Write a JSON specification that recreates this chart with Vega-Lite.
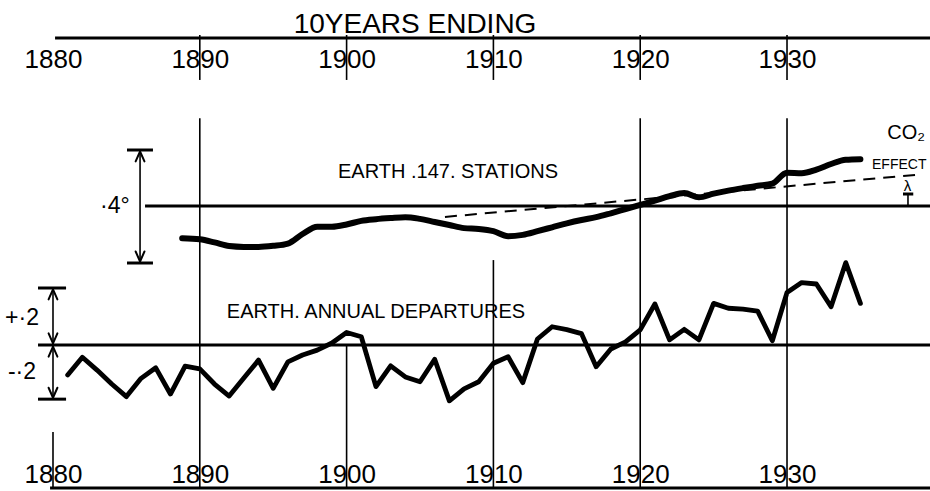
{
  "$schema": "https://vega.github.io/schema/vega-lite/v6.json",
  "width": 930,
  "height": 450,
  "autosize": {"type": "none"},
  "padding": {"top": 38, "left": 0, "right": 0, "bottom": 3},
  "background": "white",
  "config": {"view": {"stroke": null}},
  "datasets": {
    "annual": [
      {"year": 1881, "dep": -0.105}, {"year": 1882, "dep": -0.043}, {"year": 1883, "dep": -0.088},
      {"year": 1884, "dep": -0.137}, {"year": 1885, "dep": -0.181}, {"year": 1886, "dep": -0.117},
      {"year": 1887, "dep": -0.08}, {"year": 1888, "dep": -0.172}, {"year": 1889, "dep": -0.074},
      {"year": 1890, "dep": -0.084}, {"year": 1891, "dep": -0.137}, {"year": 1892, "dep": -0.179},
      {"year": 1893, "dep": -0.116}, {"year": 1894, "dep": -0.053}, {"year": 1895, "dep": -0.152},
      {"year": 1896, "dep": -0.059}, {"year": 1897, "dep": -0.035}, {"year": 1898, "dep": -0.018},
      {"year": 1899, "dep": 0.007}, {"year": 1900, "dep": 0.044}, {"year": 1901, "dep": 0.029},
      {"year": 1902, "dep": -0.146}, {"year": 1903, "dep": -0.073}, {"year": 1904, "dep": -0.112},
      {"year": 1905, "dep": -0.129}, {"year": 1906, "dep": -0.05}, {"year": 1907, "dep": -0.196},
      {"year": 1908, "dep": -0.154}, {"year": 1909, "dep": -0.129}, {"year": 1910, "dep": -0.064},
      {"year": 1911, "dep": -0.041}, {"year": 1912, "dep": -0.132}, {"year": 1913, "dep": 0.021},
      {"year": 1914, "dep": 0.064}, {"year": 1915, "dep": 0.054}, {"year": 1916, "dep": 0.04},
      {"year": 1917, "dep": -0.076}, {"year": 1918, "dep": -0.014}, {"year": 1919, "dep": 0.011},
      {"year": 1920, "dep": 0.053}, {"year": 1921, "dep": 0.144}, {"year": 1922, "dep": 0.018},
      {"year": 1923, "dep": 0.055}, {"year": 1924, "dep": 0.018}, {"year": 1925, "dep": 0.146},
      {"year": 1926, "dep": 0.129}, {"year": 1927, "dep": 0.126}, {"year": 1928, "dep": 0.119},
      {"year": 1929, "dep": 0.015}, {"year": 1930, "dep": 0.184}, {"year": 1931, "dep": 0.219},
      {"year": 1932, "dep": 0.214}, {"year": 1933, "dep": 0.134}, {"year": 1934, "dep": 0.289},
      {"year": 1935, "dep": 0.146}
    ],
    "smooth": [
      {"year": 1888.8, "dep": -0.115}, {"year": 1890, "dep": -0.119}, {"year": 1891, "dep": -0.13},
      {"year": 1892, "dep": -0.143}, {"year": 1893, "dep": -0.146}, {"year": 1894, "dep": -0.146},
      {"year": 1895, "dep": -0.142}, {"year": 1896, "dep": -0.134}, {"year": 1897, "dep": -0.1},
      {"year": 1898, "dep": -0.074}, {"year": 1899, "dep": -0.074}, {"year": 1900, "dep": -0.066},
      {"year": 1901, "dep": -0.053}, {"year": 1902, "dep": -0.047}, {"year": 1903, "dep": -0.043},
      {"year": 1904, "dep": -0.04}, {"year": 1905, "dep": -0.046}, {"year": 1906, "dep": -0.057},
      {"year": 1907, "dep": -0.068}, {"year": 1908, "dep": -0.079}, {"year": 1909, "dep": -0.082},
      {"year": 1910, "dep": -0.09}, {"year": 1911, "dep": -0.108}, {"year": 1912, "dep": -0.103},
      {"year": 1913, "dep": -0.09}, {"year": 1914, "dep": -0.076}, {"year": 1915, "dep": -0.062},
      {"year": 1916, "dep": -0.05}, {"year": 1917, "dep": -0.04}, {"year": 1918, "dep": -0.026},
      {"year": 1919, "dep": -0.011}, {"year": 1920, "dep": 0.004}, {"year": 1921, "dep": 0.019},
      {"year": 1922, "dep": 0.035}, {"year": 1923, "dep": 0.046}, {"year": 1924, "dep": 0.031},
      {"year": 1925, "dep": 0.044}, {"year": 1926, "dep": 0.055}, {"year": 1927, "dep": 0.064},
      {"year": 1928, "dep": 0.072}, {"year": 1929, "dep": 0.08}, {"year": 1930, "dep": 0.119},
      {"year": 1931, "dep": 0.117}, {"year": 1932, "dep": 0.13}, {"year": 1933, "dep": 0.15},
      {"year": 1934, "dep": 0.165}, {"year": 1935, "dep": 0.167}
    ],
    "co2": [{"year": 1906.7, "dep": -0.039}, {"year": 1938.72, "dep": 0.111}],
    "thin": [
      {"year": 1880, "year2": 1880, "v": -0.305, "v2": -0.50175},
      {"year": 1890, "year2": 1890, "v": 0.796, "v2": -0.50175},
      {"year": 1900, "year2": 1900, "v": 0, "v2": -0.50175},
      {"year": 1910, "year2": 1910, "v": 0.298, "v2": -0.50175},
      {"year": 1920, "year2": 1920, "v": 0.796, "v2": -0.50175},
      {"year": 1930, "year2": 1930, "v": 0.796, "v2": -0.50175},
      {"year": 1890, "year2": 1890, "v": 1.0877, "v2": 0.93},
      {"year": 1900, "year2": 1900, "v": 1.0877, "v2": 0.93},
      {"year": 1910, "year2": 1910, "v": 1.0877, "v2": 0.93},
      {"year": 1920, "year2": 1920, "v": 1.0877, "v2": 0.93},
      {"year": 1930, "year2": 1930, "v": 1.0877, "v2": 0.93},
      {"year": 1880, "year2": 1880, "v": 0.2, "v2": -0.19},
      {"year": 1885.93, "year2": 1885.93, "v": 0.6842, "v2": 0.2877},
      {"year": 1938.24, "year2": 1938.24, "v": 0.5298, "v2": 0.4877}
    ],
    "heads": [
      {"year": 1880, "year2": 1879.7, "v": 0.195, "v2": 0.16},
      {"year": 1880, "year2": 1880.3, "v": 0.195, "v2": 0.16},
      {"year": 1880, "year2": 1879.7, "v": 0.006, "v2": 0.041},
      {"year": 1880, "year2": 1880.3, "v": 0.006, "v2": 0.041},
      {"year": 1880, "year2": 1879.7, "v": -0.006, "v2": -0.041},
      {"year": 1880, "year2": 1880.3, "v": -0.006, "v2": -0.041},
      {"year": 1880, "year2": 1879.7, "v": -0.185, "v2": -0.15},
      {"year": 1880, "year2": 1880.3, "v": -0.185, "v2": -0.15},
      {"year": 1885.93, "year2": 1885.63, "v": 0.679, "v2": 0.644},
      {"year": 1885.93, "year2": 1886.23, "v": 0.679, "v2": 0.644},
      {"year": 1885.93, "year2": 1885.63, "v": 0.293, "v2": 0.328},
      {"year": 1885.93, "year2": 1886.23, "v": 0.293, "v2": 0.328}
    ],
    "thick": [
      {"year": 1880.14, "year2": 1939.74, "v": 1.0772, "v2": 1.0772},
      {"year": 1879.8, "year2": 1939.74, "v": -0.50175, "v2": -0.50175},
      {"year": 1878.98, "year2": 1939.74, "v": 0, "v2": 0},
      {"year": 1886.27, "year2": 1939.74, "v": 0.4877, "v2": 0.4877},
      {"year": 1878.98, "year2": 1880.89, "v": 0.2, "v2": 0.2},
      {"year": 1878.98, "year2": 1880.89, "v": -0.19, "v2": -0.19},
      {"year": 1885.04, "year2": 1886.81, "v": 0.6842, "v2": 0.6842},
      {"year": 1885.04, "year2": 1886.81, "v": 0.2877, "v2": 0.2877},
      {"year": 1937.9, "year2": 1938.6, "v": 0.5298, "v2": 0.5298}
    ]
  },
  "resolve": {"scale": {"y": "independent"}, "axis": {"x": "independent"}},
  "layer": [
    {
      "data": {"name": "thin"},
      "mark": {"type": "rule", "stroke": "#000", "strokeWidth": 1.6},
      "encoding": {
        "x": {"field": "year", "type": "quantitative", "scale": {"domain": [1876.39, 1939.74], "nice": false, "zero": false}, "axis": null},
        "x2": {"field": "year2"},
        "y": {"field": "v", "type": "quantitative", "scale": {"domain": [-0.50175, 1.07719], "nice": false, "zero": false}, "axis": null},
        "y2": {"field": "v2"}
      }
    },
    {
      "data": {"name": "heads"},
      "mark": {"type": "rule", "stroke": "#000", "strokeWidth": 2, "strokeCap": "round"},
      "encoding": {
        "x": {"field": "year", "type": "quantitative", "scale": {"domain": [1876.39, 1939.74], "nice": false, "zero": false}, "axis": null},
        "x2": {"field": "year2"},
        "y": {"field": "v", "type": "quantitative", "scale": {"domain": [-0.50175, 1.07719], "nice": false, "zero": false}, "axis": null},
        "y2": {"field": "v2"}
      }
    },
    {
      "data": {"name": "thick"},
      "mark": {"type": "rule", "stroke": "#000", "strokeWidth": 3},
      "encoding": {
        "x": {"field": "year", "type": "quantitative", "scale": {"domain": [1876.39, 1939.74], "nice": false, "zero": false}, "axis": null},
        "x2": {"field": "year2"},
        "y": {"field": "v", "type": "quantitative", "scale": {"domain": [-0.50175, 1.07719], "nice": false, "zero": false}, "axis": null},
        "y2": {"field": "v2"}
      }
    },
    {
      "data": {"name": "annual"},
      "mark": {"type": "line", "stroke": "#000", "strokeWidth": 4.8, "strokeJoin": "round", "strokeCap": "round"},
      "encoding": {
        "x": {"field": "year", "type": "quantitative", "scale": {"domain": [1876.39, 1939.74], "nice": false, "zero": false},
          "axis": {"orient": "bottom", "values": [1880, 1890, 1900, 1910, 1920, 1930], "format": "d", "domain": false, "ticks": false, "tickSize": 0, "grid": false, "labelPadding": -6, "labelBaseline": "alphabetic", "labelFont": "Liberation Sans Narrow, Liberation Sans, sans-serif", "labelFontSize": 26, "labelColor": "#000", "labelFlush": false, "labelOverlap": false, "title": null}},
        "y": {"field": "dep", "type": "quantitative", "scale": {"domain": [-0.50175, 1.07719], "nice": false, "zero": false}, "axis": null}
      }
    },
    {
      "data": {"name": "smooth"},
      "mark": {"type": "line", "stroke": "#000", "strokeWidth": 6, "strokeJoin": "round", "strokeCap": "round", "interpolate": "monotone"},
      "encoding": {
        "x": {"field": "year", "type": "quantitative", "scale": {"domain": [1876.39, 1939.74], "nice": false, "zero": false},
          "axis": {"orient": "top", "values": [1880, 1890, 1900, 1910, 1920, 1930], "format": "d", "domain": false, "ticks": false, "tickSize": 0, "grid": false, "labelPadding": -29, "labelBaseline": "alphabetic", "labelFont": "Liberation Sans Narrow, Liberation Sans, sans-serif", "labelFontSize": 26, "labelColor": "#000", "labelFlush": false, "labelOverlap": false, "title": null}},
        "y": {"field": "dep", "type": "quantitative", "scale": {"domain": [-1.00714, 0.6], "nice": false, "zero": false}, "axis": null}
      }
    },
    {
      "data": {"name": "co2"},
      "mark": {"type": "line", "stroke": "#000", "strokeWidth": 2, "strokeDash": [12, 8]},
      "encoding": {
        "x": {"field": "year", "type": "quantitative", "scale": {"domain": [1876.39, 1939.74], "nice": false, "zero": false}, "axis": null},
        "y": {"field": "dep", "type": "quantitative", "scale": {"domain": [-1.00714, 0.6], "nice": false, "zero": false}, "axis": null}
      }
    },
    {
      "data": {"values": [{"year": 1904.66, "v": 1.1228, "label": "10YEARS ENDING"}]},
      "mark": {"type": "text", "font": "Liberation Sans, sans-serif", "fontSize": 28, "align": "center", "baseline": "middle", "color": "#000"},
      "encoding": {
        "x": {"field": "year", "type": "quantitative", "scale": {"domain": [1876.39, 1939.74], "nice": false, "zero": false}, "axis": null},
        "y": {"field": "v", "type": "quantitative", "scale": {"domain": [-0.50175, 1.07719], "nice": false, "zero": false}, "axis": null},
        "text": {"field": "label"}
      }
    },
    {
      "data": {"values": [
        {"year": 1906.91, "v": 0.607, "label": "EARTH .147. STATIONS"},
        {"year": 1902.0, "v": 0.116, "label": "EARTH. ANNUAL DEPARTURES"}
      ]},
      "mark": {"type": "text", "font": "Liberation Sans, sans-serif", "fontSize": 20, "align": "center", "baseline": "middle", "color": "#000"},
      "encoding": {
        "x": {"field": "year", "type": "quantitative", "scale": {"domain": [1876.39, 1939.74], "nice": false, "zero": false}, "axis": null},
        "y": {"field": "v", "type": "quantitative", "scale": {"domain": [-0.50175, 1.07719], "nice": false, "zero": false}, "axis": null},
        "text": {"field": "label"}
      }
    },
    {
      "data": {"values": [
        {"year": 1884.22, "v": 0.4877, "label": "·4°"},
        {"year": 1877.89, "v": 0.095, "label": "+·2"},
        {"year": 1877.89, "v": -0.095, "label": "-·2"}
      ]},
      "mark": {"type": "text", "font": "Liberation Sans, sans-serif", "fontSize": 23, "align": "center", "baseline": "middle", "color": "#000"},
      "encoding": {
        "x": {"field": "year", "type": "quantitative", "scale": {"domain": [1876.39, 1939.74], "nice": false, "zero": false}, "axis": null},
        "y": {"field": "v", "type": "quantitative", "scale": {"domain": [-0.50175, 1.07719], "nice": false, "zero": false}, "axis": null},
        "text": {"field": "label"}
      }
    },
    {
      "data": {"values": [{"year": 1939.4, "v": 0.7439, "label": "CO₂"}]},
      "mark": {"type": "text", "font": "Liberation Sans, sans-serif", "fontSize": 20, "align": "right", "baseline": "middle", "color": "#000"},
      "encoding": {
        "x": {"field": "year", "type": "quantitative", "scale": {"domain": [1876.39, 1939.74], "nice": false, "zero": false}, "axis": null},
        "y": {"field": "v", "type": "quantitative", "scale": {"domain": [-0.50175, 1.07719], "nice": false, "zero": false}, "axis": null},
        "text": {"field": "label"}
      }
    },
    {
      "data": {"values": [{"year": 1935.79, "v": 0.6316, "label": "EFFECT"}]},
      "mark": {"type": "text", "font": "Liberation Sans, sans-serif", "fontSize": 14, "align": "left", "baseline": "middle", "color": "#000"},
      "encoding": {
        "x": {"field": "year", "type": "quantitative", "scale": {"domain": [1876.39, 1939.74], "nice": false, "zero": false}, "axis": null},
        "y": {"field": "v", "type": "quantitative", "scale": {"domain": [-0.50175, 1.07719], "nice": false, "zero": false}, "axis": null},
        "text": {"field": "label"}
      }
    },
    {
      "data": {"values": [{"year": 1938.2, "v": 0.5579, "label": "λ"}]},
      "mark": {"type": "text", "font": "Liberation Sans, sans-serif", "fontSize": 15, "align": "center", "baseline": "middle", "color": "#000"},
      "encoding": {
        "x": {"field": "year", "type": "quantitative", "scale": {"domain": [1876.39, 1939.74], "nice": false, "zero": false}, "axis": null},
        "y": {"field": "v", "type": "quantitative", "scale": {"domain": [-0.50175, 1.07719], "nice": false, "zero": false}, "axis": null},
        "text": {"field": "label"}
      }
    }
  ]
}
